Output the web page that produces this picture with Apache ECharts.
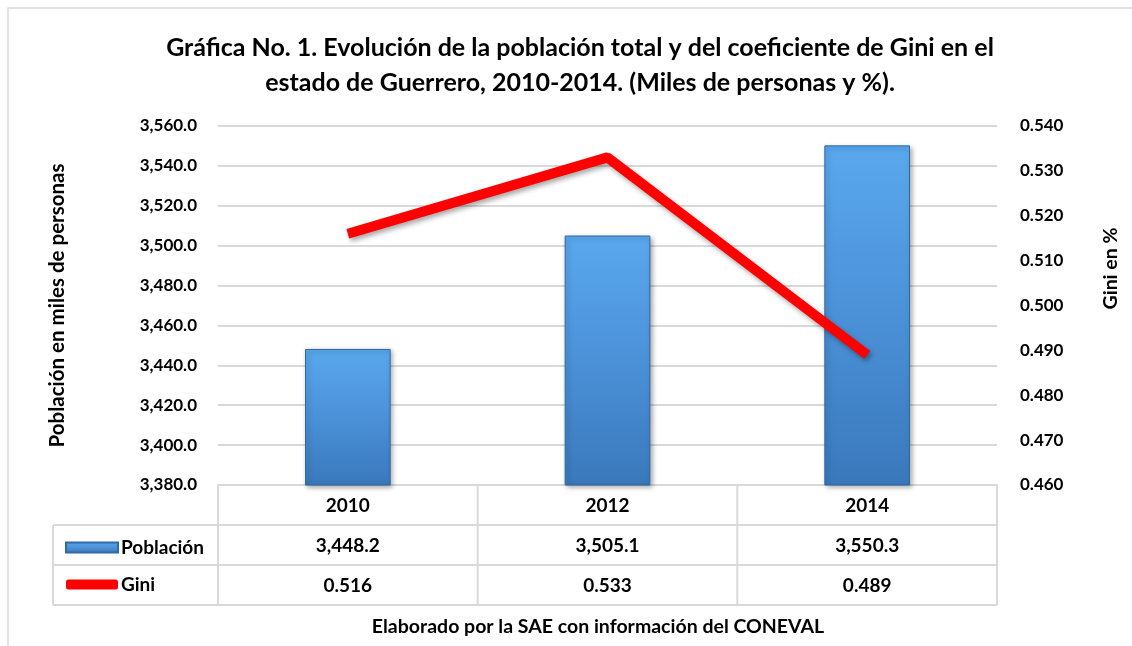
<!DOCTYPE html>
<html>
<head>
<meta charset="utf-8">
<script src="https://cdn.jsdelivr.net/npm/echarts@6/dist/echarts.min.js"></script>
<style>
  html, body { margin: 0; padding: 0; background: #fff; }
  #chart { width: 1132px; height: 646px; }
</style>
</head>
<body>
<div id="chart"></div>
<script>
  // datos
  var years = ['2010', '2012', '2014']
  var poblacion = [3448.2, 3505.1, 3550.3]
  var gini = [0.516, 0.533, 0.489]

  var font = 'Lato'
  var gridLeft = 218, gridRight = 997, gridTop = 126, gridBottom = 485
  var rowH = 40

  function fmtPob (v) {
    return v.toLocaleString('en-US', {minimumFractionDigits: 1, maximumFractionDigits: 1})
  }
  function fmtGini (v) {
    return v.toFixed(3)
  }

  var labelStyle = {color: '#000', fontFamily: font, fontWeight: 'bold', fontSize: 17}
  var tableStyle = {color: '#000', fontFamily: font, fontWeight: 'bold', fontSize: 19}
  var lineColor = '#d9d9d9'

  // lineas de la tabla de datos
  var tableLines = []
  var colW = (gridRight - gridLeft) / years.length
  for (var i = 0; i <= years.length; i++) {
    var x = gridLeft + colW * i
    tableLines.push({type: 'line', shape: {x1: x, y1: gridBottom, x2: x, y2: gridBottom + 3 * rowH}, style: {stroke: lineColor, lineWidth: 2}})
  }
  tableLines.push({type: 'line', shape: {x1: 53, y1: gridBottom + rowH, x2: 53, y2: gridBottom + 3 * rowH}, style: {stroke: lineColor, lineWidth: 2}})
  for (var r = 1; r <= 3; r++) {
    var y = gridBottom + rowH * r
    tableLines.push({type: 'line', shape: {x1: 53, y1: y, x2: gridRight, y2: y}, style: {stroke: lineColor, lineWidth: 2}})
  }
  // marco exterior
  tableLines.push({type: 'rect', shape: {x: 8, y: 8, width: 1140, height: 660}, style: {fill: 'none', stroke: lineColor, lineWidth: 1.5}})
  tableLines.push({
    type: 'text', x: 598, y: 627,
    style: {text: 'Elaborado por la SAE con información del CONEVAL', fill: '#000', font: 'bold 19.5px ' + font, align: 'center', verticalAlign: 'middle'}
  })

  var chart = echarts.init(document.getElementById('chart'))
  var option = {
    animation: false,
    title: {
      text: 'Gráfica No. 1. Evolución de la población total y del coeficiente de Gini en el\nestado de Guerrero, 2010-2014. (Miles de personas y %).',
      left: 575,
      textAlign: 'center',
      top: 25,
      textStyle: {fontFamily: font, fontWeight: 'bold', fontSize: 25, lineHeight: 35, color: '#000'}
    },
    legend: {
      orient: 'vertical',
      left: 60,
      top: 533,
      itemGap: 18,
      itemWidth: 52,
      itemHeight: 10,
      textStyle: {fontFamily: font, fontWeight: 'bold', fontSize: 19, color: '#000', padding: [0, 0, 0, -2]},
      data: [{name: 'Población', icon: 'rect'}, {name: 'Gini', icon: 'roundRect'}]
    },
    grid: {left: gridLeft, right: 1132 - gridRight, top: gridTop, bottom: 646 - gridBottom},
    xAxis: [
      {
        type: 'category', data: years, position: 'bottom',
        axisLine: {lineStyle: {color: lineColor, width: 2}},
        axisTick: {show: false},
        axisLabel: Object.assign({margin: 11}, tableStyle)
      },
      {
        type: 'category', data: poblacion.map(fmtPob), position: 'bottom', offset: rowH,
        axisLine: {show: false}, axisTick: {show: false},
        axisLabel: Object.assign({margin: 11}, tableStyle)
      },
      {
        type: 'category', data: gini.map(fmtGini), position: 'bottom', offset: rowH * 2,
        axisLine: {show: false}, axisTick: {show: false},
        axisLabel: Object.assign({margin: 11}, tableStyle)
      }
    ],
    yAxis: [
      {
        type: 'value', min: 3380, max: 3560, interval: 20,
        name: 'Población en miles de personas', nameLocation: 'middle', nameGap: 150,
        nameTextStyle: {fontFamily: font, fontWeight: 'bold', fontSize: 20.5, color: '#000'},
        axisLine: {show: false}, axisTick: {show: false},
        axisLabel: Object.assign({margin: 21, formatter: fmtPob}, labelStyle),
        splitLine: {lineStyle: {color: lineColor, width: 2}}
      },
      {
        type: 'value', min: 0.46, max: 0.54, interval: 0.01,
        name: 'Gini en %', nameLocation: 'middle', nameGap: 104,
        nameTextStyle: {fontFamily: font, fontWeight: 'bold', fontSize: 19.5, color: '#000', padding: [0, 0, 0, 74]},
        axisLine: {show: false}, axisTick: {show: false},
        axisLabel: Object.assign({margin: 23, formatter: fmtGini}, labelStyle),
        splitLine: {show: false}
      }
    ],
    series: [
      {
        name: 'Población',
        type: 'bar',
        barWidth: '33%',
        data: poblacion,
        itemStyle: {
          color: new echarts.graphic.LinearGradient(0, 0, 0, 1, [
            {offset: 0, color: '#5aa8ee'},
            {offset: 0.5, color: '#4b91d8'},
            {offset: 1, color: '#3a78bb'}
          ]),
          borderColor: '#2f6aa6',
          borderWidth: 1,
          shadowColor: 'rgba(0,0,0,0.35)',
          shadowBlur: 5,
          shadowOffsetX: 2,
          shadowOffsetY: 2
        }
      },
      {
        name: 'Gini',
        type: 'line',
        yAxisIndex: 1,
        data: gini,
        symbol: 'none',
        lineStyle: {color: '#ff0000', width: 10, shadowColor: 'rgba(0,0,0,0.35)', shadowBlur: 5, shadowOffsetY: 3, shadowOffsetX: 2},
        itemStyle: {color: '#ff0000'}
      }
    ],
    graphic: tableLines
  }
  chart.setOption(option)
</script>
</body>
</html>
